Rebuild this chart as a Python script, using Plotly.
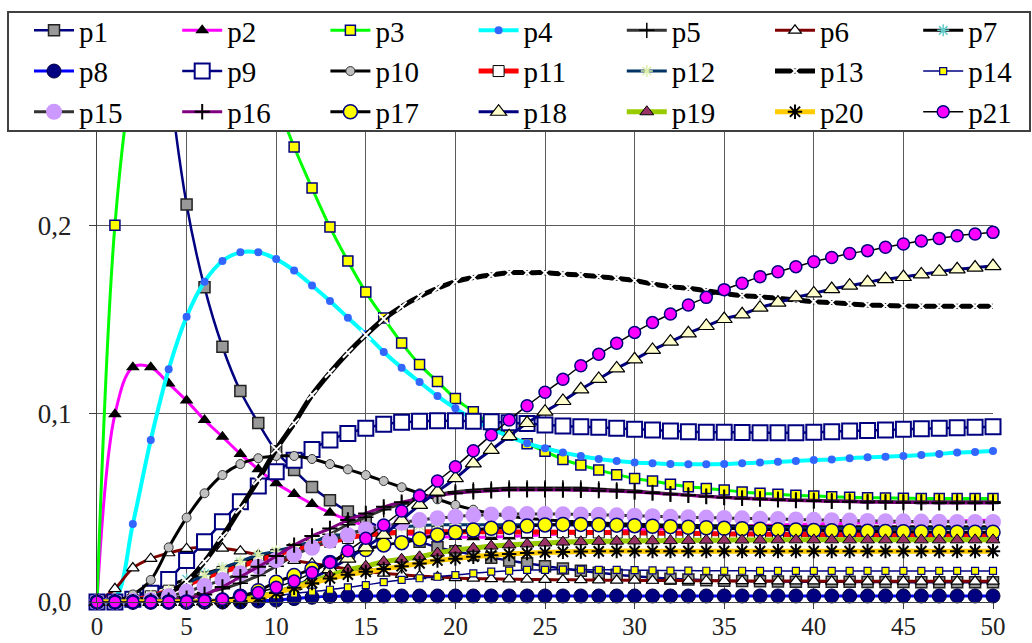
import plotly.graph_objects as go

x = list(range(51))

p1 = [1.0, 0.72, 0.52, 0.38, 0.28, 0.211, 0.167, 0.1355, 0.112, 0.095, 0.080,
      0.070, 0.061, 0.054, 0.048, 0.043, 0.039, 0.035, 0.032, 0.029, 0.027,
      0.025, 0.0235, 0.022, 0.0205, 0.019, 0.0178, 0.0166, 0.0155, 0.0145, 0.0137,
      0.013, 0.0124, 0.012, 0.0116, 0.0113, 0.0111, 0.011, 0.0109, 0.0108, 0.0108,
      0.0107, 0.0107, 0.0106, 0.0106, 0.0106, 0.0105, 0.0105, 0.0105, 0.0105, 0.0105]
p2 = [0, 0.0996, 0.1246, 0.1246, 0.116, 0.1069, 0.0966, 0.0877, 0.0786, 0.0704, 0.063,
      0.0573, 0.052, 0.0474, 0.0435, 0.0405, 0.038, 0.0365, 0.0355, 0.0348, 0.0345,
      0.0344, 0.0345, 0.0348, 0.0352, 0.0357, 0.0362, 0.0367, 0.0372, 0.0377, 0.0382,
      0.0386, 0.039, 0.0394, 0.0397, 0.040, 0.0403, 0.0406, 0.0409, 0.0411, 0.0414,
      0.0416, 0.0418, 0.042, 0.0422, 0.0424, 0.0426, 0.0428, 0.043, 0.0432, 0.0434]
p3 = [0, 0.2, 0.28, 0.315, 0.33, 0.335, 0.33, 0.32, 0.305, 0.288, 0.266,
      0.2415, 0.2197, 0.199, 0.181, 0.1645, 0.1507, 0.1375, 0.126, 0.117, 0.108,
      0.101, 0.094, 0.0885, 0.084, 0.080, 0.0757, 0.0727, 0.0701, 0.0676, 0.0656,
      0.0642, 0.0625, 0.0612, 0.0603, 0.0594, 0.0584, 0.0577, 0.0572, 0.0566, 0.0563,
      0.0559, 0.0556, 0.0554, 0.0552, 0.0551, 0.055, 0.055, 0.055, 0.055, 0.055]
p4 = [0, 0.002, 0.0414, 0.086, 0.1235, 0.1514, 0.170, 0.181, 0.1856, 0.1856, 0.182,
      0.1759, 0.168, 0.1598, 0.1509, 0.1422, 0.1327, 0.1244, 0.1168, 0.1093, 0.1028,
      0.097, 0.092, 0.0878, 0.0842, 0.0816, 0.0793, 0.0775, 0.0759, 0.0748, 0.074,
      0.0736, 0.0732, 0.0731, 0.0731, 0.0732, 0.0736, 0.074, 0.0745, 0.0748, 0.0754,
      0.0757, 0.0763, 0.0768, 0.0771, 0.0775, 0.078, 0.0786, 0.0793, 0.0796, 0.0801]
p5 = [0, 0, 0, 0.001, 0.002, 0.003, 0.005, 0.007, 0.010, 0.014, 0.019,
      0.025, 0.031, 0.036, 0.041, 0.045, 0.049, 0.052, 0.055, 0.057, 0.0585,
      0.0595, 0.060, 0.0605, 0.0605, 0.0605, 0.0605, 0.0605, 0.060, 0.0595, 0.059,
      0.0582, 0.0575, 0.0568, 0.0562, 0.0556, 0.0552, 0.0548, 0.0545, 0.0542, 0.054,
      0.0538, 0.0536, 0.0534, 0.0533, 0.0532, 0.0532, 0.0532, 0.0532, 0.0532, 0.0532]
p6 = [0, 0.007, 0.018, 0.023, 0.026, 0.0283, 0.029, 0.0285, 0.027, 0.025, 0.0235,
      0.022, 0.0205, 0.019, 0.0175, 0.0163, 0.0152, 0.0145, 0.0138, 0.0133, 0.0128,
      0.0125, 0.0123, 0.0121, 0.012, 0.0119, 0.0118, 0.0117, 0.0116, 0.0115, 0.0115,
      0.0114, 0.0114, 0.0113, 0.0113, 0.0112, 0.0112, 0.0112, 0.0111, 0.0111, 0.0111,
      0.011, 0.011, 0.011, 0.011, 0.011, 0.011, 0.011, 0.011, 0.011, 0.011]
p7 = [0, 0.001, 0.003, 0.006, 0.009, 0.012, 0.015, 0.018, 0.021, 0.024, 0.026,
      0.028, 0.030, 0.032, 0.034, 0.035, 0.036, 0.0365, 0.037, 0.0372, 0.0373,
      0.0374, 0.0374, 0.0374, 0.0374, 0.0373, 0.0372, 0.0371, 0.037, 0.0369, 0.0368,
      0.0367, 0.0366, 0.0365, 0.0364, 0.0363, 0.0362, 0.0362, 0.0361, 0.0361, 0.036,
      0.036, 0.036, 0.036, 0.036, 0.036, 0.036, 0.036, 0.036, 0.036, 0.036]
p8 = [0, 0, 0, 0, 0, 0, 0, 0, 0, 0.0005, 0.001,
      0.0018, 0.0025, 0.003, 0.0032, 0.0032, 0.0032, 0.0032, 0.0032, 0.0032, 0.0032,
      0.0032, 0.0032, 0.0032, 0.0032, 0.0032, 0.0032, 0.0032, 0.0032, 0.0032, 0.0032,
      0.0032, 0.0032, 0.0032, 0.0032, 0.0032, 0.0032, 0.0032, 0.0032, 0.0032, 0.0032,
      0.0032, 0.0032, 0.0032, 0.0032, 0.0032, 0.0032, 0.0032, 0.0032, 0.0032, 0.0032]
p9 = [0, 0, 0.0015, 0.0046, 0.012, 0.022, 0.032, 0.0426, 0.0532, 0.0616, 0.0692,
      0.0752, 0.081, 0.086, 0.0895, 0.0922, 0.0943, 0.0954, 0.0959, 0.0962, 0.0962,
      0.096, 0.0957, 0.0952, 0.0947, 0.094, 0.0934, 0.093, 0.0927, 0.0922, 0.0917,
      0.0913, 0.0908, 0.0904, 0.0901, 0.0901, 0.09, 0.0899, 0.0899, 0.0899, 0.0901,
      0.0904, 0.0908, 0.091, 0.0913, 0.0917, 0.0919, 0.0922, 0.0925, 0.0927, 0.093]
p10 = [0, 0.0005, 0.004, 0.0117, 0.029, 0.0448, 0.0577, 0.0674, 0.0732, 0.0763, 0.0775,
       0.0775, 0.0759, 0.0732, 0.0704, 0.0674, 0.0642, 0.0609, 0.0577, 0.0545, 0.0515,
       0.049, 0.047, 0.0455, 0.0445, 0.0437, 0.043, 0.0425, 0.042, 0.0416, 0.0413,
       0.041, 0.0408, 0.0406, 0.0405, 0.0404, 0.0403, 0.0402, 0.0401, 0.04, 0.04,
       0.04, 0.04, 0.04, 0.04, 0.04, 0.04, 0.04, 0.04, 0.04, 0.04]
p11 = [0, 0, 0.001, 0.003, 0.006, 0.009, 0.013, 0.016, 0.019, 0.022, 0.025,
       0.028, 0.030, 0.032, 0.034, 0.0355, 0.0365, 0.037, 0.0372, 0.0373, 0.0373,
       0.0373, 0.0373, 0.0372, 0.0372, 0.0371, 0.037, 0.037, 0.0369, 0.0368, 0.0367,
       0.0366, 0.0365, 0.0364, 0.0363, 0.0362, 0.0361, 0.036, 0.0359, 0.0358, 0.0358,
       0.0357, 0.0357, 0.0356, 0.0356, 0.0356, 0.0355, 0.0355, 0.0355, 0.0355, 0.0355]
p12 = [0, 0, 0.001, 0.003, 0.006, 0.010, 0.014, 0.018, 0.0215, 0.025, 0.027,
       0.0295, 0.032, 0.0345, 0.0365, 0.038, 0.039, 0.040, 0.0405, 0.041, 0.041,
       0.041, 0.041, 0.041, 0.041, 0.041, 0.041, 0.0408, 0.0406, 0.0404, 0.0402,
       0.040, 0.0399, 0.0398, 0.0397, 0.0396, 0.0395, 0.0394, 0.0393, 0.0392, 0.0392,
       0.0391, 0.0391, 0.039, 0.039, 0.039, 0.039, 0.039, 0.039, 0.039, 0.039]
p13 = [0, 0, 0.0005, 0.002, 0.005, 0.0108, 0.0214, 0.0347, 0.0497, 0.0648, 0.081,
       0.0948, 0.1099, 0.1217, 0.1323, 0.1417, 0.1502, 0.1568, 0.1622, 0.1665, 0.170,
       0.1722, 0.1736, 0.1748, 0.1748, 0.1748, 0.1741, 0.1736, 0.1727, 0.1718, 0.1706,
       0.1688, 0.1674, 0.1665, 0.1652, 0.1638, 0.1626, 0.162, 0.1612, 0.1603, 0.1594,
       0.1589, 0.1582, 0.1576, 0.1574, 0.1571, 0.157, 0.157, 0.157, 0.157, 0.157]
p14 = [0, 0, 0, 0, 0.0003, 0.0006, 0.001, 0.0015, 0.002, 0.0027, 0.0035,
       0.0045, 0.0055, 0.0065, 0.0078, 0.009, 0.0105, 0.0117, 0.0126, 0.0134, 0.0143,
       0.0152, 0.0161, 0.0166, 0.017, 0.017, 0.0172, 0.0172, 0.0171, 0.017, 0.0169,
       0.0168, 0.0167, 0.0167, 0.0166, 0.0166, 0.0166, 0.0165, 0.0165, 0.0165, 0.0165,
       0.0165, 0.0165, 0.0165, 0.0165, 0.0165, 0.0165, 0.0165, 0.0165, 0.0165, 0.0165]
p15 = [0, 0, 0.0005, 0.001, 0.003, 0.0055, 0.0085, 0.0117, 0.0152, 0.0187, 0.0223,
       0.0252, 0.0288, 0.0325, 0.0356, 0.0386, 0.040, 0.042, 0.0435, 0.0445, 0.0453,
       0.046, 0.0465, 0.0467, 0.0467, 0.0467, 0.0466, 0.0465, 0.0463, 0.046, 0.0458,
       0.0455, 0.0452, 0.045, 0.0448, 0.0446, 0.0444, 0.0442, 0.044, 0.0438, 0.0436,
       0.0434, 0.0432, 0.043, 0.0429, 0.0428, 0.0427, 0.0426, 0.0425, 0.0425, 0.0425]
p16 = [0, 0, 0, 0.0005, 0.001, 0.002, 0.004, 0.008, 0.0134, 0.0187, 0.0244,
       0.0302, 0.035, 0.039, 0.0435, 0.047, 0.0505, 0.053, 0.055, 0.0565, 0.0577,
       0.0585, 0.059, 0.0594, 0.0595, 0.0595, 0.0594, 0.0593, 0.0591, 0.0588, 0.0584,
       0.0578, 0.0572, 0.0566, 0.056, 0.0555, 0.055, 0.0546, 0.0542, 0.0539, 0.0536,
       0.0534, 0.0532, 0.053, 0.0529, 0.0528, 0.0527, 0.0526, 0.0526, 0.0525, 0.0525]
p17 = [0, 0, 0, 0, 0, 0, 0.0003, 0.001, 0.003, 0.006, 0.0105,
       0.014, 0.0175, 0.021, 0.025, 0.0278, 0.0303, 0.0315, 0.0334, 0.0356, 0.037,
       0.0382, 0.0391, 0.0396, 0.0403, 0.0409, 0.0412, 0.0412, 0.041, 0.0408, 0.0405,
       0.0402, 0.040, 0.0397, 0.0394, 0.0391, 0.0389, 0.0386, 0.0384, 0.0382, 0.038,
       0.0378, 0.0377, 0.0375, 0.0374, 0.0373, 0.0372, 0.0371, 0.037, 0.037, 0.037]
p18 = [0, 0, 0, 0, 0, 0, 0.0003, 0.001, 0.002, 0.0035, 0.0055,
       0.0085, 0.0125, 0.0175, 0.023, 0.029, 0.0356, 0.0435, 0.0515, 0.0586, 0.0657,
       0.0736, 0.0807, 0.088, 0.095, 0.101, 0.1067, 0.1129, 0.1184, 0.124, 0.1288,
       0.1338, 0.1382, 0.1426, 0.1465, 0.1502, 0.1527, 0.1562, 0.1589, 0.1617, 0.1638,
       0.1661, 0.1679, 0.1697, 0.1714, 0.1725, 0.1739, 0.1753, 0.1766, 0.1775, 0.1783]
p19 = [0, 0, 0, 0, 0, 0, 0, 0, 0.001, 0.003, 0.005,
       0.008, 0.011, 0.014, 0.017, 0.019, 0.0214, 0.0227, 0.024, 0.026, 0.0276,
       0.0285, 0.0297, 0.0303, 0.0308, 0.0313, 0.0318, 0.032, 0.0322, 0.0323, 0.0324,
       0.0325, 0.0326, 0.0327, 0.0328, 0.0328, 0.0329, 0.0329, 0.033, 0.033, 0.033,
       0.033, 0.033, 0.033, 0.033, 0.033, 0.033, 0.033, 0.033, 0.033, 0.033]
p20 = [0, 0, 0, 0, 0, 0, 0, 0, 0.0005, 0.002, 0.0048,
       0.0075, 0.010, 0.0125, 0.0145, 0.016, 0.0175, 0.019, 0.0205, 0.022, 0.023,
       0.024, 0.0248, 0.0255, 0.026, 0.0263, 0.0266, 0.0268, 0.0269, 0.027, 0.027,
       0.027, 0.027, 0.027, 0.027, 0.027, 0.027, 0.027, 0.027, 0.027, 0.027,
       0.027, 0.027, 0.027, 0.027, 0.027, 0.027, 0.027, 0.027, 0.027, 0.027]
p21 = [0, 0, 0, 0, 0, 0.0003, 0.0007, 0.0015, 0.003, 0.005, 0.0078,
       0.0111, 0.0156, 0.021, 0.0272, 0.0338, 0.0409, 0.0483, 0.0564, 0.0642, 0.0718,
       0.0803, 0.0886, 0.0966, 0.1042, 0.1113, 0.1182, 0.1254, 0.1315, 0.1373, 0.1431,
       0.1483, 0.1529, 0.1576, 0.1617, 0.1658, 0.1692, 0.1727, 0.1753, 0.178, 0.1806,
       0.1829, 0.185, 0.1865, 0.1883, 0.19, 0.1916, 0.193, 0.1944, 0.1953, 0.1962]

names = ["p%d" % i for i in range(1, 22)]
series = [p1, p2, p3, p4, p5, p6, p7, p8, p9, p10, p11, p12, p13, p14, p15, p16,
          p17, p18, p19, p20, p21]
for nm, s in zip(names, series):
    assert len(s) == 51, (nm, len(s))

# style: (line color, line width, symbol, size, fill, border color, border width)
styles = [
    ("#000080", 2.5, "square", 11, "#999999", "#222222", 1.5),
    ("#FF00FF", 3, "triangle-up", 12, "#000000", "#000000", 0),
    ("#00FF00", 3, "square", 10, "#FFFF00", "#000080", 1.5),
    ("#00FFFF", 4, "circle", 8, "#3366FF", "#3366FF", 0),
    ("#333333", 3, "cross-thin-open", 11, "#000000", "#000000", 1.5),
    ("#800000", 3, "triangle-up", 11, "#FFFFFF", "#000000", 1.2),
    ("#000000", 3, "asterisk-open", 10, "#66CCCC", "#66CCCC", 1.5),
    ("#0000FF", 3, "circle", 14, "#000080", "#000040", 1),
    ("#000080", 2.5, "square", 15, "#FFFFFF", "#000080", 2),
    ("#000000", 3, "circle", 9, "#C0C0C0", "#333333", 1),
    ("#FF0000", 5, "square", 11, "#FFFFFF", "#000000", 1),
    ("#003366", 3, "asterisk-open", 10, "#DDEEAA", "#DDEEAA", 1.5),
    ("#000000", 5, "x-thin-open", 10, "#FFFFFF", "#FFFFFF", 2),
    ("#000080", 1.5, "square", 7, "#FFFF00", "#000080", 1.2),
    ("#333333", 3, "circle", 16, "#CC99FF", "#CC99FF", 0),
    ("#800080", 3, "cross-thin-open", 11, "#000000", "#000000", 2),
    ("#000000", 3, "circle", 14, "#FFFF00", "#000080", 1.5),
    ("#000080", 3, "triangle-up", 14, "#FFFFCC", "#000000", 1.2),
    ("#99CC00", 5, "triangle-up", 12, "#993366", "#000000", 1),
    ("#FFCC00", 5, "asterisk-open", 12, "#000000", "#000000", 2),
    ("#000000", 1.5, "circle", 12, "#FF00FF", "#000080", 1.5),
]

W, H = 1032, 643
L, R, T, B = 97, 39, 131, 41
PW, PH = W - L - R, H - T - B


def px_to_paper_x(px):
    return (px - L) / PW


def py_to_paper_y(py):
    return (H - B - py) / PH


fig = go.Figure()
for i, (nm, s, st) in enumerate(zip(names, series, styles)):
    lc, lw, sym, sz, fc, bc, bw = st
    col = i % 7
    legid = "legend" if col == 0 else "legend%d" % (col + 1)
    fig.add_trace(go.Scatter(
        x=x, y=s, name=nm, mode="lines+markers",
        line=dict(color=lc, width=lw, shape="spline", smoothing=1),
        marker=dict(symbol=sym, size=sz, color=fc, line=dict(color=bc, width=bw)),
        cliponaxis=False, legend=legid,
    ))

SERIF = "Liberation Serif, Times New Roman, DejaVu Serif, serif"
leg_font = dict(family=SERIF, size=29, color="black")
layout_legends = {}
for c in range(7):
    key = "legend" if c == 0 else "legend%d" % (c + 1)
    layout_legends[key] = dict(
        xref="paper", yref="paper",
        x=px_to_paper_x(29 + c * 148.2), y=py_to_paper_y(5),
        xanchor="left", yanchor="top",
        orientation="v", bgcolor="rgba(0,0,0,0)", borderwidth=0,
        font=leg_font, tracegroupgap=0, itemwidth=40,
    )

axis_font = dict(family=SERIF, size=25, color="#222222")
fig.update_layout(
    width=W, height=H,
    margin=dict(l=L, r=R, t=T, b=B, autoexpand=False),
    paper_bgcolor="white", plot_bgcolor="white",
    separators=", ",
    showlegend=True,
    xaxis=dict(range=[0, 50], tick0=0, dtick=5, showgrid=True, gridcolor="#5a5a5a",
               gridwidth=1, zeroline=False, showline=True, linecolor="#404040",
               linewidth=1, ticks="outside", ticklen=6, tickcolor="#404040",
               tickfont=axis_font, ticklabelstandoff=-4),
    yaxis=dict(range=[0, 0.25], tick0=0, dtick=0.1, tickformat=".1f", showgrid=True,
               gridcolor="#5a5a5a", gridwidth=1, zeroline=False, showline=True,
               linecolor="#404040", linewidth=1, ticks="outside", ticklen=7,
               tickcolor="#404040", tickfont=dict(family=SERIF, size=27, color="#222222"),
               ticklabelstandoff=12),
    shapes=[dict(type="rect", xref="paper", yref="paper",
                 x0=px_to_paper_x(8), x1=px_to_paper_x(1030),
                 y0=py_to_paper_y(131), y1=py_to_paper_y(12),
                 fillcolor="white", line=dict(color="#404040", width=2), layer="above")],
    **layout_legends,
)

fig.write_html(
    "out.html",
    config={"displayModeBar": False},
    post_script="document.body.style.margin='0';document.body.style.overflow='hidden';",
)
